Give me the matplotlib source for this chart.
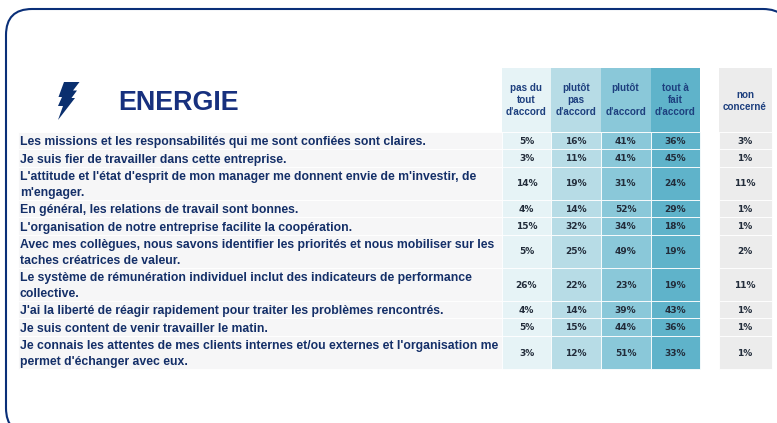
import matplotlib
matplotlib.use('Agg')
import matplotlib.pyplot as plt
from matplotlib.patches import FancyBboxPatch, Polygon, Rectangle

questions = [
    "Les missions et les responsabilités qui me sont confiées sont claires.",
    "Je suis fier de travailler dans cette entreprise.",
    "L'attitude et l'état d'esprit de mon manager me donnent envie de m'investir, de\nm'engager.",
    "En général, les relations de travail sont bonnes.",
    "L'organisation de notre entreprise facilite la coopération.",
    "Avec mes collègues, nous savons identifier les priorités et nous mobiliser sur les\ntaches créatrices de valeur.",
    "Le système de rémunération individuel inclut des indicateurs de performance\ncollective.",
    "J'ai la liberté de réagir rapidement pour traiter les problèmes rencontrés.",
    "Je suis content de venir travailler le matin.",
    "Je connais les attentes de mes clients internes et/ou externes et l'organisation me\npermet d'échanger avec eux.",
]
pas_du_tout = [5, 3, 14, 4, 15, 5, 26, 4, 5, 3]
plutot_pas = [16, 11, 19, 14, 32, 25, 22, 14, 15, 12]
plutot = [41, 41, 31, 52, 34, 49, 23, 39, 44, 51]
tout_a_fait = [36, 45, 24, 29, 18, 19, 19, 43, 36, 33]
non_concerne = [3, 1, 11, 1, 1, 2, 11, 1, 1, 1]
headers = ["pas du\ntout\nd'accord", "plutôt\npas\nd'accord", "plutôt\n\nd'accord", "tout à\nfait\nd'accord"]

navy = '#0a2f78'
text_blue = '#142f68'
col_colors = ['#e6f3f6', '#b7dce6', '#8ac8d9', '#5fb3ca']
col_edges = [502, 551, 600.5, 650.5, 700]
nc_x = (718.5, 771.5)
row_h = [17.5, 17.5, 33, 17.5, 17.5, 33, 33, 17.5, 17.5, 33]
top = 132

plt.rcParams['font.family'] = ['Liberation Sans', 'DejaVu Sans']
fig = plt.figure(figsize=(7.77, 4.23), dpi=100)
ax = fig.add_axes([0, 0, 1, 1])
ax.set_xlim(0, 777)
ax.set_ylim(423, 0)
ax.axis('off')

# frame, runs off the right and the bottom
ax.add_patch(FancyBboxPatch((6, 9), 783, 425, boxstyle='round,pad=0,rounding_size=26',
                            fc='white', ec=navy, lw=1.5))

# bolt
ax.add_patch(Polygon([(64, 82), (79.5, 82), (73, 90.5), (77, 90.5), (71.5, 98), (75, 98),
                      (58, 120), (63, 106), (58, 106), (62, 97), (58.5, 97)],
                     fc='#0a2f6e', ec='none'))
ax.text(118.5, 102.5, "ENERGIE", fontsize=19.4, fontweight='bold', color='#17307e', va='center', ha='left')

# header cells
for i in range(4):
    ax.add_patch(Rectangle((col_edges[i], 68), col_edges[i + 1] - col_edges[i], 64, fc=col_colors[i], ec='none'))
    ax.text((col_edges[i] + col_edges[i + 1]) / 2, 100, headers[i], fontsize=7.1, fontweight='bold',
            color='#1d3f7e', ha='center', va='center', linespacing=1.25)
ax.add_patch(Rectangle((nc_x[0], 68), nc_x[1] - nc_x[0], 64, fc='#ececec', ec='none'))
ax.text(sum(nc_x) / 2, 100.5, "non\nconcerné", fontsize=7.1, fontweight='bold', color='#1d3f7e',
        ha='center', va='center', linespacing=1.25)

# rows
columns = [pas_du_tout, plutot_pas, plutot, tout_a_fait]
y = top
for r, q in enumerate(questions):
    h = row_h[r]
    mid = y + h / 2
    ax.add_patch(Rectangle((18, y), 484, h, fc='#f6f6f7', ec='white', lw=0.6))
    ax.text(20, mid + 1.3, q, fontsize=8.8, fontweight='bold', color=text_blue, va='center', ha='left', linespacing=1.45)
    for i, col in enumerate(columns):
        ax.add_patch(Rectangle((col_edges[i], y), col_edges[i + 1] - col_edges[i], h,
                               fc=col_colors[i], ec='white', lw=0.6))
        ax.text((col_edges[i] + col_edges[i + 1]) / 2, mid + 0.5, f"{col[r]}%", fontsize=6.5, fontweight='bold',
                family='DejaVu Sans', color='#222c3a', ha='center', va='center')
    ax.add_patch(Rectangle((nc_x[0], y), nc_x[1] - nc_x[0], h, fc='#ececec', ec='white', lw=0.6))
    ax.text(sum(nc_x) / 2, mid + 0.5, f"{non_concerne[r]}%", fontsize=6.5, fontweight='bold',
            family='DejaVu Sans', color='#222c3a', ha='center', va='center')
    y += h

fig.savefig('out.png', dpi=100)
